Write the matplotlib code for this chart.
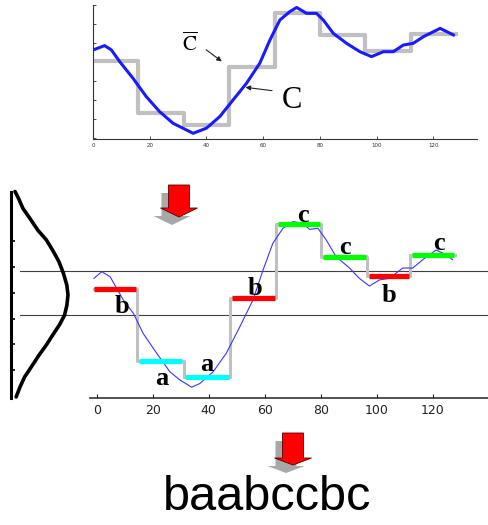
import numpy as np
import matplotlib
matplotlib.use("Agg")
import matplotlib.pyplot as plt
from matplotlib.patches import Polygon

plt.rcParams['mathtext.fontset'] = 'stix'

# serie originale C (panneau du haut)
t_top = [0, 4.1, 6.5, 9.4, 14.1, 18.8, 23.5, 28.2, 35.3, 40, 44.7, 49.4, 54.1, 58.8,
         62.4, 65.9, 69.4, 71.8, 75.3, 78.8, 81.2, 84.7, 89.4, 94.1, 98.2, 102.4,
         105.9, 109.4, 112.9, 116.5, 120, 122.4, 127.1]
c_top = [4.65, 4.88, 4.65, 4.04, 3.16, 2.19, 1.40, 0.79, 0.26, 0.53, 1.14, 2.02, 2.89, 3.95,
         5.18, 6.23, 6.67, 6.89, 6.58, 6.58, 6.23, 5.53, 5.00, 4.56, 4.30, 4.56,
         4.56, 4.91, 5.00, 5.35, 5.61, 5.79, 5.44]
# approximation PAA (C barre)
seg_edges = [0, 16, 32, 48, 64, 80, 96, 112, 128]
paa_top = [4.07, 1.35, 0.70, 3.77, 6.61, 5.44, 4.60, 5.49]

# serie normalisee (panneau du bas)
t_bot = [-1, 1.8, 4.8, 9.5, 13.1, 16.6, 21.4, 26.1, 29.7, 33.9, 36.8, 41.6, 46.3, 51.1,
         55.8, 59.4, 62.9, 66.5, 70.1, 73.6, 76, 79, 81.9, 85.5, 90.3, 93.8, 97.4,
         101, 104.5, 109.3, 112.9, 116.4, 121.2, 124.7, 127.1]
c_bot = [0.28, 0.41, 0.31, -0.14, -0.40, -0.79, -1.17, -1.53, -1.69, -1.83, -1.76, -1.53,
         -1.17, -0.66, -0.14, 0.44, 0.96, 1.25, 1.38, 1.35, 1.23, 1.25, 1.03, 0.70, 0.48,
         0.28, 0.13, 0.25, 0.28, 0.48, 0.48, 0.64, 0.83, 0.74, 0.64]
bot_edges = [-1, 14.5, 31, 47.5, 64, 80, 96.5, 112, 128]
paa_bot = [0.07, -1.32, -1.63, -0.11, 1.33, 0.70, 0.33, 0.74]
symbols = ['b', 'a', 'a', 'b', 'c', 'c', 'b', 'c']
breakpoints = [-0.43, 0.43]
sym_colors = {'a': '#00ffff', 'b': '#ff0000', 'c': '#00ff00'}

# courbe gaussienne
gauss_z = [1.97, 1.84, 1.64, 1.45, 1.22, 1.03, 0.83, 0.61, 0.38, 0.15, -0.04, -0.24,
           -0.43, -0.62, -0.82, -1.01, -1.21, -1.43, -1.63, -1.82, -2.02]
gauss_d = [0.07, 0.13, 0.21, 0.33, 0.47, 0.62, 0.73, 0.84, 0.92, 0.98, 1.0, 0.98,
           0.94, 0.85, 0.73, 0.62, 0.49, 0.36, 0.24, 0.16, 0.09]

W, H = 489, 525
fig = plt.figure(figsize=(W / 100, H / 100), dpi=100)


def px_axes(x0, y0, x1, y1):
    # rectangle en pixels (haut-gauche, bas-droit) -> axes
    return fig.add_axes([x0 / W, 1 - y1 / H, (x1 - x0) / W, (y1 - y0) / H])


# ---- panneau du haut ----
ax1 = px_axes(93, 5, 477, 139)
ax1.step(seg_edges, paa_top + [paa_top[-1]], where='post', color='#c0c0c0', lw=3)
ax1.plot(t_top, c_top, color='#1a1aff', lw=2.2)
ax1.set_xlim(0, 135.4)
ax1.set_ylim(-0.04, 7.02)
ax1.set_xticks(range(0, 121, 20))
ax1.set_yticks(range(8))
ax1.set_yticklabels([])
ax1.tick_params(direction='in', length=2.5, width=0.6, labelsize=4, pad=3, colors='#333333')
for s in ['top', 'right']:
    ax1.spines[s].set_visible(False)
for s in ['left', 'bottom']:
    ax1.spines[s].set_color('#333333')
    ax1.spines[s].set_linewidth(0.8)

ax1.text(34.1, 5.0, r'$\overline{\mathrm{C}}$', fontsize=15, ha='center', va='center')
ax1.annotate('', xy=(46.2, 3.96), xytext=(39.1, 4.75),
             arrowprops=dict(arrowstyle='-|>', color='#222222', lw=0.8, mutation_scale=7))
ax1.text(70.1, 2.0, 'C', fontsize=22, family='Liberation Serif', ha='center', va='center')
ax1.annotate('', xy=(52.8, 2.7), xytext=(64.1, 2.49),
             arrowprops=dict(arrowstyle='-|>', color='#222222', lw=0.8, mutation_scale=7))

# ---- panneau du bas ----
ax2 = px_axes(20, 185, 489, 398)
ax2.set_xlim(-27.4, 140.1)
ax2.set_ylim(-2.04, 2.09)
for b in breakpoints:
    ax2.axhline(b, color='#404040', lw=0.8)
ax2.step(bot_edges, paa_bot + [paa_bot[-1]], where='post', color='#c0c0c0', lw=2.2)
ax2.plot(t_bot, c_bot, color='#3838ff', lw=0.8)
for i, s in enumerate(symbols):
    x0 = bot_edges[i] + (0 if i == 0 else 0.7)
    ax2.hlines(paa_bot[i], x0, bot_edges[i + 1] - 0.4, color=sym_colors[s], lw=3.8)

label_pos = [(8.9, -0.26), (23.4, -1.66), (39.2, -1.40), (56.4, 0.08),
             (73.6, 1.50), (88.5, 0.88), (104.5, -0.06), (122.3, 0.95)]
for s, (x, y) in zip(symbols, label_pos):
    ax2.text(x, y, s, fontsize=19, family='Liberation Serif', fontweight='bold',
             ha='center', va='center')

ax2.set_xticks(range(0, 121, 20))
ax2.set_yticks([])
ax2.tick_params(axis='x', direction='in', length=3, width=0.8, labelsize=9, pad=4,
                colors='#222222')
for s in ['top', 'right', 'left']:
    ax2.spines[s].set_visible(False)
ax2.spines['bottom'].set_bounds(-2.4, 140.1)
ax2.spines['bottom'].set_color('#333333')
ax2.spines['bottom'].set_linewidth(1.2)
ax2.patch.set_alpha(0)

# ---- gaussienne a gauche ----
ax3 = px_axes(11, 192, 90, 398)
ax3.plot(gauss_d, gauss_z, color='black', lw=2.6, clip_on=False,
         solid_capstyle='round', solid_joinstyle='round')
ax3.set_xlim(0, 79 / 57)
ax3.set_ylim(-2.04, 1.96)
ax3.set_xticks([])
ax3.set_yticks(np.arange(-1.5, 1.01, 0.5))
ax3.set_yticklabels([])
ax3.tick_params(axis='y', direction='in', length=3, width=1.2)
for s in ['top', 'right', 'bottom']:
    ax3.spines[s].set_visible(False)
ax3.spines['left'].set_linewidth(2.2)
ax3.patch.set_alpha(0)


# ---- fleches rouges ----
def block_arrow(cx, top, head_y, tip_y, shaft_w, head_w, color, ec, dx=0, dy=0):
    pts = [(cx - shaft_w / 2, top), (cx + shaft_w / 2, top), (cx + shaft_w / 2, head_y),
           (cx + head_w / 2, head_y), (cx, tip_y), (cx - head_w / 2, head_y),
           (cx - shaft_w / 2, head_y)]
    pts = [((x + dx) / W, 1 - (y + dy) / H) for x, y in pts]
    fig.patches.append(Polygon(pts, closed=True, transform=fig.transFigure,
                               facecolor=color, edgecolor=ec, lw=0.6))


for cx, top, hy, ty in [(179, 185, 208, 217), (293, 433, 458, 465)]:
    block_arrow(cx, top, hy, ty, 21, 37, '#a8a8a8', 'none', dx=-7, dy=8)
    block_arrow(cx, top, hy, ty, 21, 37, '#ff0000', '#550000')

fig.text(267 / W, 1 - 510 / H, 'baabccbc', fontsize=35, family='Liberation Sans',
         ha='center', va='baseline')

fig.savefig('out.png', dpi=100)
